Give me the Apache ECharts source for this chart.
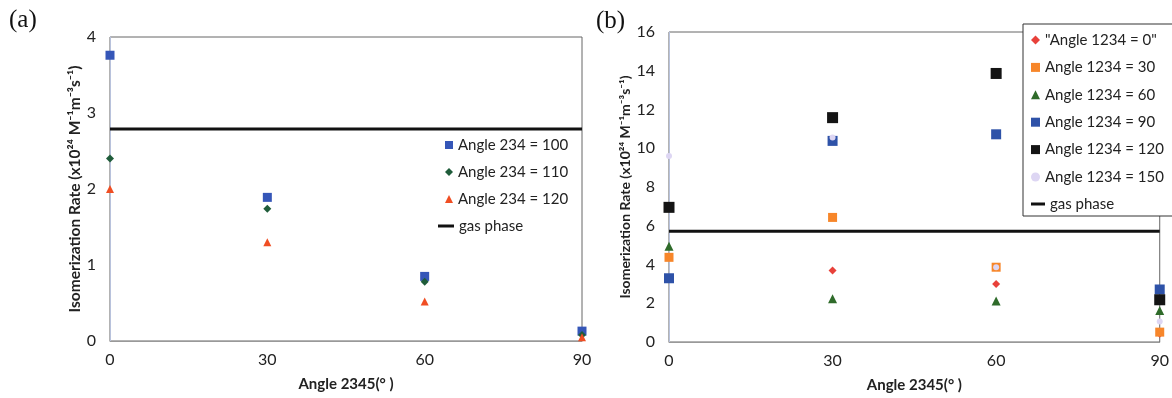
<!DOCTYPE html>
<html><head><meta charset="utf-8">
<script src="https://cdn.jsdelivr.net/npm/echarts@6/dist/echarts.min.js"></script>
<style>html,body{margin:0;padding:0;background:#fff}#c{width:1172px;height:398px}</style>
</head><body><div id="c"></div>
<script>
// ---- data ----
const xTicks = [0, 30, 60, 90];
// panel (a)
const a100 = [3.76, 1.89, 0.85, 0.13];
const a110 = [2.40, 1.74, 0.78, 0.08];
const a120 = [2.00, 1.30, 0.52, 0.05];
const gasA = 2.79;
// panel (b)
const b0   = [4.40, 3.69, 3.00, 0.43];
const b30  = [4.37, 6.43, 3.86, 0.51];
const b60  = [4.94, 2.23, 2.11, 1.63];
const b90  = [3.29, 10.38, 10.72, 2.71];
const b120 = [6.95, 11.58, 13.86, 2.18];
const b150 = [9.60, 10.55, 3.86, 1.06];
const gasB = 5.71;

const namesA = ['Angle 234 = 100', 'Angle 234 = 110', 'Angle 234 = 120'];
const namesB = ['"Angle 1234 = 0"', 'Angle 1234 = 30', 'Angle 1234 = 60', 'Angle 1234 = 90', 'Angle 1234 = 120', 'Angle 1234 = 150'];
const gasName = 'gas phase';
const yName = 'Isomerization Rate (x10²⁴ M⁻¹m⁻³s⁻¹)';
const xName = 'Angle 2345(° )';

const FONT = 'Lato, "Liberation Sans", sans-serif';
const pts = arr => arr.map((v, i) => [xTicks[i], v]);

function xAxis(gi) {
  return {
    type: 'value', gridIndex: gi, min: 0, max: 90, interval: 30,
    name: xName, nameLocation: 'middle', nameGap: 36,
    nameTextStyle: { fontFamily: FONT, fontWeight: 'bold', fontSize: 15, color: '#222' },
    axisLine: { show: true, lineStyle: { color: '#999', width: 1 } },
    axisTick: { show: false }, splitLine: { show: false },
    axisLabel: { fontFamily: FONT, fontSize: 16, color: '#222', margin: 11 }
  };
}
function yAxis(gi, max, interval, gap, fs) {
  return {
    type: 'value', gridIndex: gi, min: 0, max: max, interval: interval,
    name: yName, nameLocation: 'middle', nameGap: gap, nameRotate: 90,
    nameTextStyle: { fontFamily: FONT, fontWeight: 'bold', fontSize: fs, color: '#222' },
    axisLine: { show: true, lineStyle: { color: '#b8c2dc', width: 1 } },
    axisTick: { show: false }, splitLine: { show: false },
    axisLabel: { fontFamily: FONT, fontSize: 16, color: '#222', margin: 14 }
  };
}
function sc(name, data, xi, symbol, size, color) {
  return { type: 'scatter', name: name, xAxisIndex: xi, yAxisIndex: xi, data: pts(data),
    symbol: symbol, symbolSize: size, itemStyle: { color: color, opacity: 1 } };
}
function gas(xi, v) {
  return { type: 'line', name: gasName, xAxisIndex: xi, yAxisIndex: xi,
    data: [[xTicks[0], v], [xTicks[xTicks.length - 1], v]], symbol: 'none',
    lineStyle: { color: '#111', width: 3 }, itemStyle: { color: '#111' }, z: 1 };
}
const gasLegendItem = { name: gasName, icon: 'rect', itemStyle: { color: '#111' } };

const chart = echarts.init(document.getElementById('c'), null, { renderer: 'canvas' });
chart.setOption({
  animation: false,
  backgroundColor: '#fff',
  grid: [
    { left: 110, right: 590, top: 37, bottom: 57, show: true, borderColor: '#666', borderWidth: 1 },
    { left: 669, right: 12, top: 32, bottom: 55, show: true, borderColor: '#666', borderWidth: 1 }
  ],
  xAxis: [xAxis(0), xAxis(1)],
  yAxis: [yAxis(0, 4, 1, 27, 15.5), yAxis(1, 16, 2, 35, 14)],
  legend: [
    { data: namesA, orient: 'vertical', left: 445, top: 136, padding: 0, itemGap: 9,
      itemWidth: 8, itemHeight: 8,
      textStyle: { fontFamily: FONT, fontSize: 15, lineHeight: 18, color: '#222' } },
    { data: [gasLegendItem], orient: 'vertical', left: 438, top: 217, padding: 0,
      itemWidth: 16, itemHeight: 3,
      textStyle: { fontFamily: FONT, fontSize: 15, lineHeight: 18, color: '#222' } },
    { data: namesB, orient: 'vertical', left: 1023, top: 24, padding: [7, 20, 30, 8], itemGap: 9.4,
      itemWidth: 9, itemHeight: 9, backgroundColor: '#fff', borderColor: '#333', borderWidth: 1,
      textStyle: { fontFamily: FONT, fontSize: 15, lineHeight: 18, color: '#222' } },
    { data: [gasLegendItem], orient: 'vertical', left: 1031, top: 195, padding: 0,
      itemWidth: 14, itemHeight: 3, z: 10,
      textStyle: { fontFamily: FONT, fontSize: 15, lineHeight: 18, color: '#222' } }
  ],
  graphic: [
    { type: 'text', left: 9, top: 8, style: { text: '(a)', font: '25px "Liberation Serif", serif', fill: '#111' } },
    { type: 'text', left: 596, top: 9, style: { text: '(b)', font: '25px "Liberation Serif", serif', fill: '#111' } }
  ],
  series: [
    gas(0, gasA),
    sc(namesA[0], a100, 0, 'rect', 9, '#3556b8'),
    sc(namesA[1], a110, 0, 'diamond', 8, '#1f5c3a'),
    sc(namesA[2], a120, 0, 'triangle', 8, '#f04e23'),
    gas(1, gasB),
    sc(namesB[0], b0, 1, 'diamond', 8, '#e8413a'),
    sc(namesB[1], b30, 1, 'rect', 9, '#f7862a'),
    sc(namesB[2], b60, 1, 'triangle', 9, '#2f6b2a'),
    sc(namesB[3], b90, 1, 'rect', 10, '#2e52a8'),
    sc(namesB[4], b120, 1, 'rect', 11, '#141414'),
    sc(namesB[5], b150, 1, 'circle', 6, '#ddd6f3')
  ]
});
</script></body></html>
